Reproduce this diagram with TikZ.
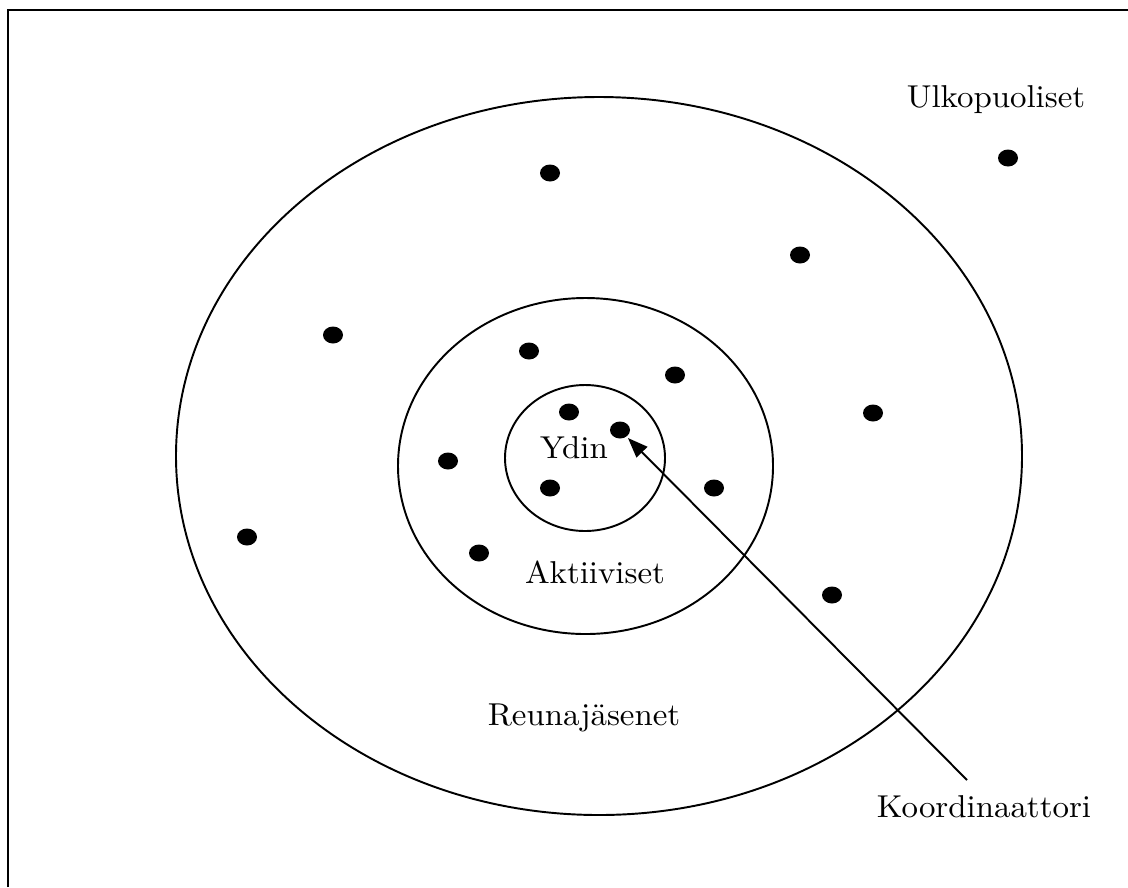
\documentclass[tikz,border=0pt]{standalone}
\usepackage{fontspec}
\usepackage{tikz}
\usetikzlibrary{shapes.geometric,arrows.meta,positioning}

\newfontfamily\labelfont{lmroman10-regular}[Extension=.otf,FakeStretch=1.04]

\tikzset{
  dot/.style={ellipse,fill=black,minimum width=0.4cm,minimum height=0.34cm,inner sep=0pt},
  label/.style={anchor=base,font=\labelfont\fontsize{18}{22}\selectfont},
  ring/.style={line width=1.1pt},
  pointer/.style={line width=1.1pt,-{Triangle[length=0.4cm,width=0.3cm]}}
}

\begin{document}
\begin{tikzpicture}[x=0.02cm,y=-0.02cm]
            \useasboundingbox (0,0) rectangle (1128,887);

            % frame (right and bottom sides fall outside)
            \draw[line width=1.5pt] (8,887) -- (8,10) -- (1128,10);

            % Outer circle
            \draw[ring] (599,456) ellipse (423 and 359);
            % Active members
            \draw[ring] (585.5,466) ellipse (187.5 and 168);
            % Core
            \draw[ring] (585,458) ellipse (80 and 73);

            % Members
            \foreach \px/\py [count=\i] in {550/173,1008/158,800/255,333/335,529/351,
                675/375,873/413,569/412,620/430,448/461,550/488,714/488,247/537,479/553,832/595}
                \node[dot] (d\i) at (\px,\py) {};

            % Labels
            \node[label] (ulko) at (996,107) {Ulkopuoliset};
            \node[label] (ydin) at (574,458) {Ydin};
            \node[label] (akt) at (595,583) {Aktiiviset};
            \node[label] (reuna) at (584,725) {Reunajäsenet};
            \node[label] (koord) at (984,817) {Koordinaattori};

            % Coordinator
            \coordinate (kstart) at (967,780);
            \draw[pointer,shorten >=1pt] (kstart) -- (d9);
        \end{tikzpicture}
\end{document}
